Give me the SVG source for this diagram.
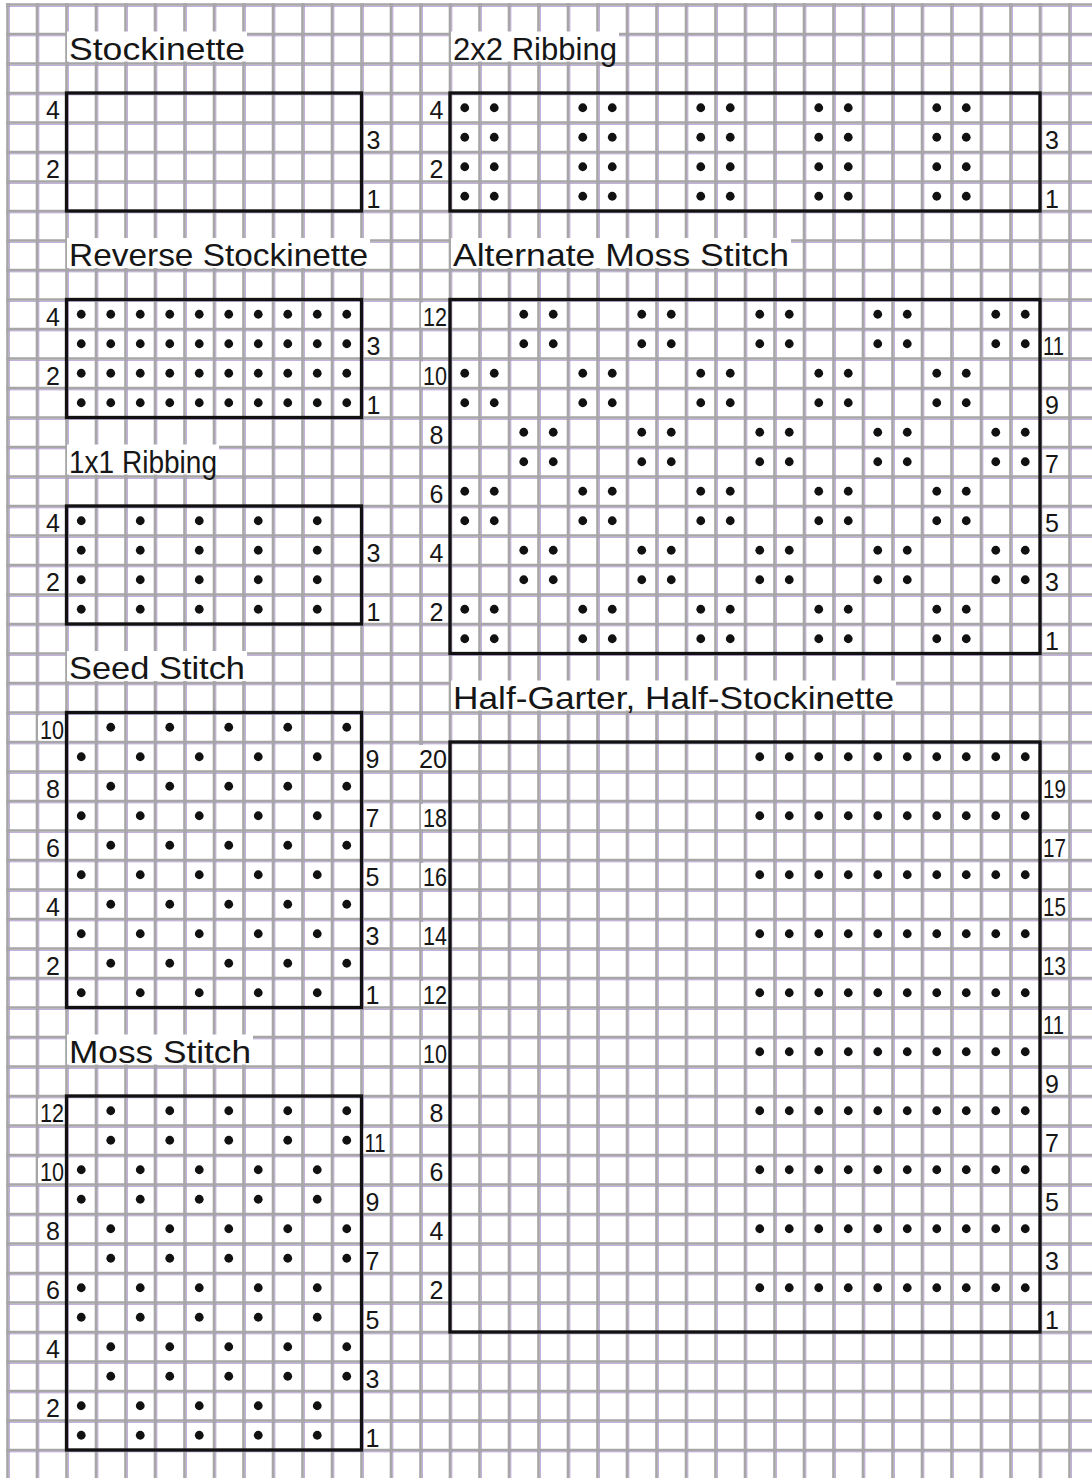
<svg xmlns="http://www.w3.org/2000/svg" width="1092" height="1478" viewBox="0 0 1092 1478">
<style>
.gl{fill:none;stroke:#a6a6a6;stroke-width:2.6}
.pl{fill:none;stroke:#a084cc;stroke-width:0.8}
.box{fill:none;stroke:#111;stroke-width:3.3}
.bg{fill:#fff}
.t{font-family:"Liberation Sans",Arial,sans-serif;font-size:32px;fill:#161616}
.n{font-family:"Liberation Sans",Arial,sans-serif;font-size:25px;fill:#161616}
.l{text-anchor:end}
.dots circle{fill:#111}
</style>
<defs>
<g id="f10" class="dots"><circle cx="0" r="4.4"/><circle cx="29.5" r="4.4"/><circle cx="59" r="4.4"/><circle cx="88.5" r="4.4"/><circle cx="118" r="4.4"/><circle cx="147.5" r="4.4"/><circle cx="177" r="4.4"/><circle cx="206.5" r="4.4"/><circle cx="236" r="4.4"/><circle cx="265.5" r="4.4"/></g>
<g id="e5" class="dots"><circle cx="0" r="4.4"/><circle cx="59" r="4.4"/><circle cx="118" r="4.4"/><circle cx="177" r="4.4"/><circle cx="236" r="4.4"/></g>
<g id="o5" class="dots"><circle cx="29.5" r="4.4"/><circle cx="88.5" r="4.4"/><circle cx="147.5" r="4.4"/><circle cx="206.5" r="4.4"/><circle cx="265.5" r="4.4"/></g>
<g id="rA" class="dots"><circle cx="0" r="4.4"/><circle cx="29.5" r="4.4"/><circle cx="118" r="4.4"/><circle cx="147.5" r="4.4"/><circle cx="236" r="4.4"/><circle cx="265.5" r="4.4"/><circle cx="354" r="4.4"/><circle cx="383.5" r="4.4"/><circle cx="472" r="4.4"/><circle cx="501.5" r="4.4"/></g>
<g id="rB" class="dots"><circle cx="59" r="4.4"/><circle cx="88.5" r="4.4"/><circle cx="177" r="4.4"/><circle cx="206.5" r="4.4"/><circle cx="295" r="4.4"/><circle cx="324.5" r="4.4"/><circle cx="413" r="4.4"/><circle cx="442.5" r="4.4"/><circle cx="531" r="4.4"/><circle cx="560.5" r="4.4"/></g>
</defs>
<rect width="1092" height="1478" fill="#fff"/>
<g id="grid">
<path class="pl" d="M9.3 3.2V1478M38.8 3.2V1478M68.3 3.2V1478M97.8 3.2V1478M127.3 3.2V1478M156.8 3.2V1478M186.3 3.2V1478M215.8 3.2V1478M245.3 3.2V1478M274.8 3.2V1478M304.3 3.2V1478M333.8 3.2V1478M363.3 3.2V1478M392.8 3.2V1478M422.3 3.2V1478M451.8 3.2V1478M481.3 3.2V1478M510.8 3.2V1478M540.3 3.2V1478M569.8 3.2V1478M599.3 3.2V1478M628.8 3.2V1478M658.3 3.2V1478M687.8 3.2V1478M717.3 3.2V1478M746.8 3.2V1478M776.3 3.2V1478M805.8 3.2V1478M835.3 3.2V1478M864.8 3.2V1478M894.3 3.2V1478M923.8 3.2V1478M953.3 3.2V1478M982.8 3.2V1478M1012.3 3.2V1478M1041.8 3.2V1478M1071.3 3.2V1478"/>
<path class="pl" d="M6.2 6.3H1092M6.2 35.8H1092M6.2 65.3H1092M6.2 94.8H1092M6.2 124.3H1092M6.2 153.8H1092M6.2 183.3H1092M6.2 212.8H1092M6.2 242.3H1092M6.2 271.8H1092M6.2 301.3H1092M6.2 330.8H1092M6.2 360.3H1092M6.2 389.8H1092M6.2 419.3H1092M6.2 448.8H1092M6.2 478.3H1092M6.2 507.8H1092M6.2 537.3H1092M6.2 566.8H1092M6.2 596.3H1092M6.2 625.8H1092M6.2 655.3H1092M6.2 684.8H1092M6.2 714.3H1092M6.2 743.8H1092M6.2 773.3H1092M6.2 802.8H1092M6.2 832.3H1092M6.2 861.8H1092M6.2 891.3H1092M6.2 920.8H1092M6.2 950.3H1092M6.2 979.8H1092M6.2 1009.3H1092M6.2 1038.8H1092M6.2 1068.3H1092M6.2 1097.8H1092M6.2 1127.3H1092M6.2 1156.8H1092M6.2 1186.3H1092M6.2 1215.8H1092M6.2 1245.3H1092M6.2 1274.8H1092M6.2 1304.3H1092M6.2 1333.8H1092M6.2 1363.3H1092M6.2 1392.8H1092M6.2 1422.3H1092M6.2 1451.8H1092"/>
<path class="gl" d="M7.5 3.2V1478M37 3.2V1478M66.5 3.2V1478M96 3.2V1478M125.5 3.2V1478M155 3.2V1478M184.5 3.2V1478M214 3.2V1478M243.5 3.2V1478M273 3.2V1478M302.5 3.2V1478M332 3.2V1478M361.5 3.2V1478M391 3.2V1478M420.5 3.2V1478M450 3.2V1478M479.5 3.2V1478M509 3.2V1478M538.5 3.2V1478M568 3.2V1478M597.5 3.2V1478M627 3.2V1478M656.5 3.2V1478M686 3.2V1478M715.5 3.2V1478M745 3.2V1478M774.5 3.2V1478M804 3.2V1478M833.5 3.2V1478M863 3.2V1478M892.5 3.2V1478M922 3.2V1478M951.5 3.2V1478M981 3.2V1478M1010.5 3.2V1478M1040 3.2V1478M1069.5 3.2V1478"/>
<path class="gl" d="M6.2 4.5H1092M6.2 34H1092M6.2 63.5H1092M6.2 93H1092M6.2 122.5H1092M6.2 152H1092M6.2 181.5H1092M6.2 211H1092M6.2 240.5H1092M6.2 270H1092M6.2 299.5H1092M6.2 329H1092M6.2 358.5H1092M6.2 388H1092M6.2 417.5H1092M6.2 447H1092M6.2 476.5H1092M6.2 506H1092M6.2 535.5H1092M6.2 565H1092M6.2 594.5H1092M6.2 624H1092M6.2 653.5H1092M6.2 683H1092M6.2 712.5H1092M6.2 742H1092M6.2 771.5H1092M6.2 801H1092M6.2 830.5H1092M6.2 860H1092M6.2 889.5H1092M6.2 919H1092M6.2 948.5H1092M6.2 978H1092M6.2 1007.5H1092M6.2 1037H1092M6.2 1066.5H1092M6.2 1096H1092M6.2 1125.5H1092M6.2 1155H1092M6.2 1184.5H1092M6.2 1214H1092M6.2 1243.5H1092M6.2 1273H1092M6.2 1302.5H1092M6.2 1332H1092M6.2 1361.5H1092M6.2 1391H1092M6.2 1420.5H1092M6.2 1450H1092"/>
</g>

<g id="stockinette">
<rect class="bg" x="67" y="31.5" width="180" height="30"/>
<text class="t" x="69" y="59.5" textLength="176" lengthAdjust="spacingAndGlyphs">Stockinette</text>
<rect class="box" x="66.5" y="93" width="295" height="118"/>
<text class="n l" x="60" y="119">4</text>
<text class="n l" x="60" y="178">2</text>
<text class="n" x="366.5" y="148.5">3</text>
<text class="n" x="366.5" y="207.5">1</text>
</g>

<g id="ribbing-2x2">
<rect class="bg" x="451" y="31.5" width="168" height="30"/>
<text class="t" x="453" y="59.5" textLength="164" lengthAdjust="spacingAndGlyphs">2x2 Ribbing</text>
<rect class="box" x="450" y="93" width="590" height="118"/>
<use href="#rA" x="464.75" y="107.75"/>
<use href="#rA" x="464.75" y="137.25"/>
<use href="#rA" x="464.75" y="166.75"/>
<use href="#rA" x="464.75" y="196.25"/>
<text class="n l" x="443.5" y="119">4</text>
<text class="n l" x="443.5" y="178">2</text>
<text class="n" x="1045" y="148.5">3</text>
<text class="n" x="1045" y="207.5">1</text>
</g>

<g id="reverse-stockinette">
<rect class="bg" x="67" y="238" width="303" height="30"/>
<text class="t" x="69" y="266" textLength="299" lengthAdjust="spacingAndGlyphs">Reverse Stockinette</text>
<rect class="box" x="66.5" y="299.5" width="295" height="118"/>
<use href="#f10" x="81.25" y="314.25"/>
<use href="#f10" x="81.25" y="343.75"/>
<use href="#f10" x="81.25" y="373.25"/>
<use href="#f10" x="81.25" y="402.75"/>
<text class="n l" x="60" y="325.5">4</text>
<text class="n l" x="60" y="384.5">2</text>
<text class="n" x="366.5" y="355">3</text>
<text class="n" x="366.5" y="414">1</text>
</g>

<g id="alternate-moss">
<rect class="bg" x="451" y="238" width="340" height="30"/>
<text class="t" x="453" y="266" textLength="336" lengthAdjust="spacingAndGlyphs">Alternate Moss Stitch</text>
<rect class="box" x="450" y="299.5" width="590" height="354"/>
<use href="#rB" x="464.75" y="314.25"/>
<use href="#rB" x="464.75" y="343.75"/>
<use href="#rA" x="464.75" y="373.25"/>
<use href="#rA" x="464.75" y="402.75"/>
<use href="#rB" x="464.75" y="432.25"/>
<use href="#rB" x="464.75" y="461.75"/>
<use href="#rA" x="464.75" y="491.25"/>
<use href="#rA" x="464.75" y="520.75"/>
<use href="#rB" x="464.75" y="550.25"/>
<use href="#rB" x="464.75" y="579.75"/>
<use href="#rA" x="464.75" y="609.25"/>
<use href="#rA" x="464.75" y="638.75"/>
<rect class="bg" x="421" y="302.5" width="26" height="25"/>
<text class="n l" x="447" y="325.5" textLength="24" lengthAdjust="spacingAndGlyphs">12</text>
<rect class="bg" x="421" y="361.5" width="26" height="25"/>
<text class="n l" x="447" y="384.5" textLength="24" lengthAdjust="spacingAndGlyphs">10</text>
<text class="n l" x="443.5" y="443.5">8</text>
<text class="n l" x="443.5" y="502.5">6</text>
<text class="n l" x="443.5" y="561.5">4</text>
<text class="n l" x="443.5" y="620.5">2</text>
<rect class="bg" x="1042" y="332" width="24" height="25"/>
<text class="n" x="1043" y="355" textLength="21" lengthAdjust="spacingAndGlyphs">11</text>
<text class="n" x="1045" y="414">9</text>
<text class="n" x="1045" y="473">7</text>
<text class="n" x="1045" y="532">5</text>
<text class="n" x="1045" y="591">3</text>
<text class="n" x="1045" y="650">1</text>
</g>

<g id="ribbing-1x1">
<rect class="bg" x="67" y="444.5" width="152" height="30"/>
<text class="t" x="69" y="472.5" textLength="148" lengthAdjust="spacingAndGlyphs">1x1 Ribbing</text>
<rect class="box" x="66.5" y="506" width="295" height="118"/>
<use href="#e5" x="81.25" y="520.75"/>
<use href="#e5" x="81.25" y="550.25"/>
<use href="#e5" x="81.25" y="579.75"/>
<use href="#e5" x="81.25" y="609.25"/>
<text class="n l" x="60" y="532">4</text>
<text class="n l" x="60" y="591">2</text>
<text class="n" x="366.5" y="561.5">3</text>
<text class="n" x="366.5" y="620.5">1</text>
</g>

<g id="seed-stitch">
<rect class="bg" x="67" y="651" width="180" height="30"/>
<text class="t" x="69" y="679" textLength="176" lengthAdjust="spacingAndGlyphs">Seed Stitch</text>
<rect class="box" x="66.5" y="712.5" width="295" height="295"/>
<use href="#o5" x="81.25" y="727.25"/>
<use href="#e5" x="81.25" y="756.75"/>
<use href="#o5" x="81.25" y="786.25"/>
<use href="#e5" x="81.25" y="815.75"/>
<use href="#o5" x="81.25" y="845.25"/>
<use href="#e5" x="81.25" y="874.75"/>
<use href="#o5" x="81.25" y="904.25"/>
<use href="#e5" x="81.25" y="933.75"/>
<use href="#o5" x="81.25" y="963.25"/>
<use href="#e5" x="81.25" y="992.75"/>
<rect class="bg" x="38" y="715.5" width="26" height="25"/>
<text class="n l" x="64" y="738.5" textLength="24" lengthAdjust="spacingAndGlyphs">10</text>
<text class="n l" x="60" y="797.5">8</text>
<text class="n l" x="60" y="856.5">6</text>
<text class="n l" x="60" y="915.5">4</text>
<text class="n l" x="60" y="974.5">2</text>
<text class="n" x="365.5" y="768">9</text>
<text class="n" x="365.5" y="827">7</text>
<text class="n" x="365.5" y="886">5</text>
<text class="n" x="365.5" y="945">3</text>
<text class="n" x="365.5" y="1004">1</text>
</g>

<g id="half-garter-half-stockinette">
<rect class="bg" x="451" y="680.5" width="445" height="30"/>
<text class="t" x="453" y="708.5" textLength="441" lengthAdjust="spacingAndGlyphs">Half-Garter, Half-Stockinette</text>
<rect class="box" x="450" y="742" width="590" height="590"/>
<use href="#f10" x="759.75" y="756.75"/>
<use href="#f10" x="759.75" y="815.75"/>
<use href="#f10" x="759.75" y="874.75"/>
<use href="#f10" x="759.75" y="933.75"/>
<use href="#f10" x="759.75" y="992.75"/>
<use href="#f10" x="759.75" y="1051.75"/>
<use href="#f10" x="759.75" y="1110.75"/>
<use href="#f10" x="759.75" y="1169.75"/>
<use href="#f10" x="759.75" y="1228.75"/>
<use href="#f10" x="759.75" y="1287.75"/>
<rect class="bg" x="417" y="745" width="31" height="25"/>
<text class="n l" x="447" y="768" textLength="28" lengthAdjust="spacingAndGlyphs">20</text>
<rect class="bg" x="421" y="804" width="26" height="25"/>
<text class="n l" x="447" y="827" textLength="24" lengthAdjust="spacingAndGlyphs">18</text>
<rect class="bg" x="421" y="863" width="26" height="25"/>
<text class="n l" x="447" y="886" textLength="24" lengthAdjust="spacingAndGlyphs">16</text>
<rect class="bg" x="421" y="922" width="26" height="25"/>
<text class="n l" x="447" y="945" textLength="24" lengthAdjust="spacingAndGlyphs">14</text>
<rect class="bg" x="421" y="981" width="26" height="25"/>
<text class="n l" x="447" y="1004" textLength="24" lengthAdjust="spacingAndGlyphs">12</text>
<rect class="bg" x="421" y="1040" width="26" height="25"/>
<text class="n l" x="447" y="1063" textLength="24" lengthAdjust="spacingAndGlyphs">10</text>
<text class="n l" x="443.5" y="1122">8</text>
<text class="n l" x="443.5" y="1181">6</text>
<text class="n l" x="443.5" y="1240">4</text>
<text class="n l" x="443.5" y="1299">2</text>
<rect class="bg" x="1042" y="774.5" width="25" height="25"/>
<text class="n" x="1043" y="797.5" textLength="23" lengthAdjust="spacingAndGlyphs">19</text>
<rect class="bg" x="1042" y="833.5" width="25" height="25"/>
<text class="n" x="1043" y="856.5" textLength="23" lengthAdjust="spacingAndGlyphs">17</text>
<rect class="bg" x="1042" y="892.5" width="25" height="25"/>
<text class="n" x="1043" y="915.5" textLength="23" lengthAdjust="spacingAndGlyphs">15</text>
<rect class="bg" x="1042" y="951.5" width="25" height="25"/>
<text class="n" x="1043" y="974.5" textLength="23" lengthAdjust="spacingAndGlyphs">13</text>
<rect class="bg" x="1042" y="1010.5" width="25" height="25"/>
<text class="n" x="1043" y="1033.5" textLength="21" lengthAdjust="spacingAndGlyphs">11</text>
<text class="n" x="1045" y="1092.5">9</text>
<text class="n" x="1045" y="1151.5">7</text>
<text class="n" x="1045" y="1210.5">5</text>
<text class="n" x="1045" y="1269.5">3</text>
<text class="n" x="1045" y="1328.5">1</text>
</g>

<g id="moss-stitch">
<rect class="bg" x="67" y="1034.5" width="186" height="30"/>
<text class="t" x="69" y="1062.5" textLength="182" lengthAdjust="spacingAndGlyphs">Moss Stitch</text>
<rect class="box" x="66.5" y="1096" width="295" height="354"/>
<use href="#o5" x="81.25" y="1110.75"/>
<use href="#o5" x="81.25" y="1140.25"/>
<use href="#e5" x="81.25" y="1169.75"/>
<use href="#e5" x="81.25" y="1199.25"/>
<use href="#o5" x="81.25" y="1228.75"/>
<use href="#o5" x="81.25" y="1258.25"/>
<use href="#e5" x="81.25" y="1287.75"/>
<use href="#e5" x="81.25" y="1317.25"/>
<use href="#o5" x="81.25" y="1346.75"/>
<use href="#o5" x="81.25" y="1376.25"/>
<use href="#e5" x="81.25" y="1405.75"/>
<use href="#e5" x="81.25" y="1435.25"/>
<rect class="bg" x="38" y="1099" width="26" height="25"/>
<text class="n l" x="64" y="1122" textLength="24" lengthAdjust="spacingAndGlyphs">12</text>
<rect class="bg" x="38" y="1158" width="26" height="25"/>
<text class="n l" x="64" y="1181" textLength="24" lengthAdjust="spacingAndGlyphs">10</text>
<text class="n l" x="60" y="1240">8</text>
<text class="n l" x="60" y="1299">6</text>
<text class="n l" x="60" y="1358">4</text>
<text class="n l" x="60" y="1417">2</text>
<rect class="bg" x="363.5" y="1128.5" width="25" height="25"/>
<text class="n" x="364.5" y="1151.5" textLength="21" lengthAdjust="spacingAndGlyphs">11</text>
<text class="n" x="365.5" y="1210.5">9</text>
<text class="n" x="365.5" y="1269.5">7</text>
<text class="n" x="365.5" y="1328.5">5</text>
<text class="n" x="365.5" y="1387.5">3</text>
<text class="n" x="365.5" y="1446.5">1</text>
</g>
</svg>
